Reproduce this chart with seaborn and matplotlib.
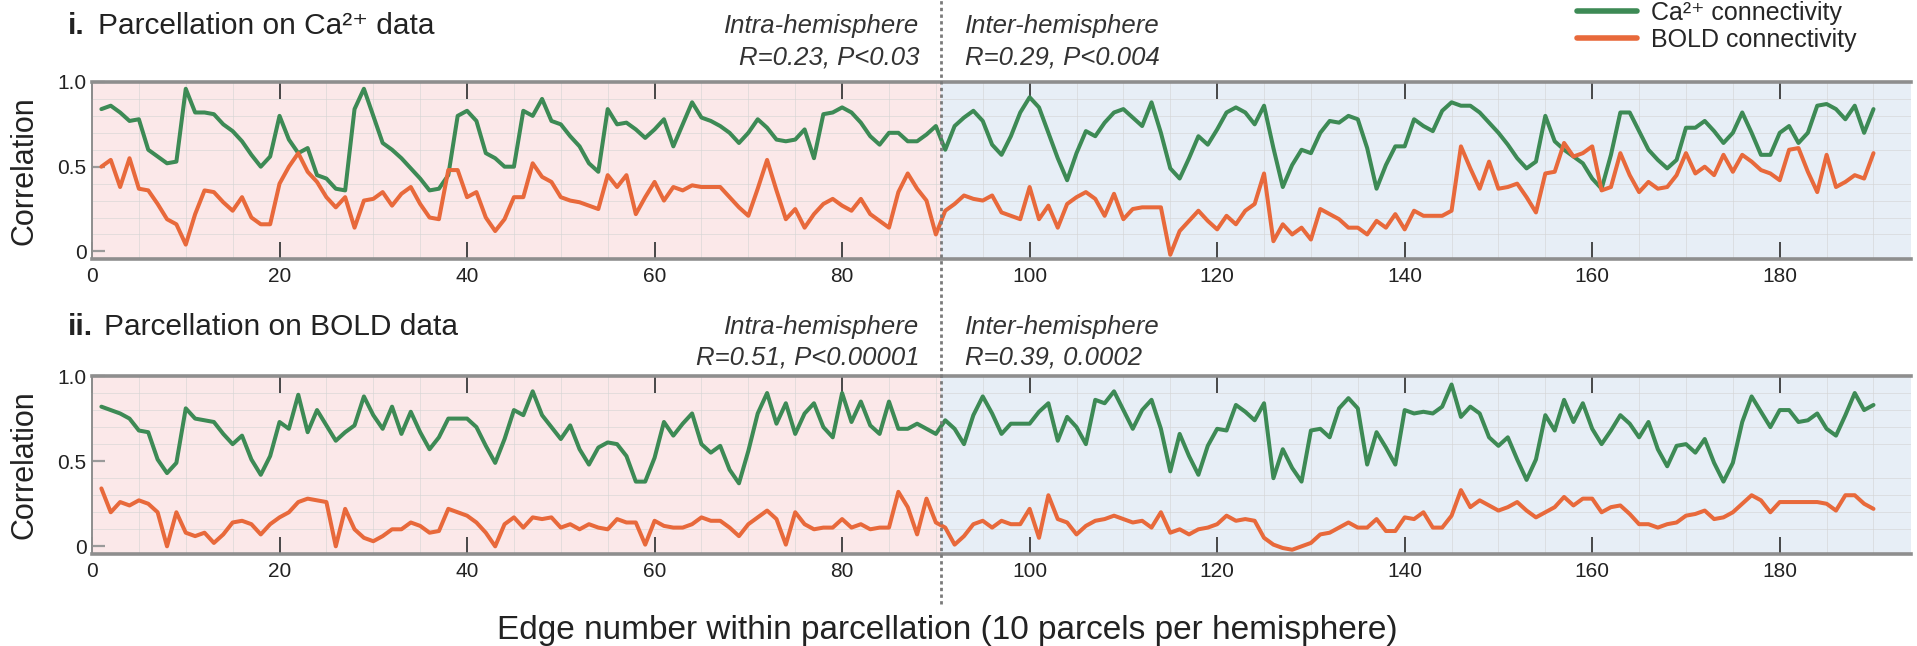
import numpy as np
import pandas as pd
import matplotlib
matplotlib.use("Agg")
import matplotlib.pyplot as plt
from matplotlib import transforms
from matplotlib.lines import Line2D
from matplotlib.ticker import MultipleLocator
import seaborn as sns

# ---- data -------------------------------------------------------------
edges = np.arange(1, 191)
n_intra = 90  # edges that stay within one hemisphere come first

# parcellation on Ca2+ data
ca_parc_ca = [
    0.84, 0.86, 0.82, 0.77, 0.78, 0.60, 0.56, 0.52, 0.53, 0.96,
    0.82, 0.82, 0.81, 0.75, 0.71, 0.65, 0.57, 0.50, 0.56, 0.80,
    0.66, 0.58, 0.61, 0.45, 0.43, 0.37, 0.36, 0.84, 0.96, 0.80,
    0.64, 0.60, 0.55, 0.49, 0.43, 0.36, 0.37, 0.45, 0.80, 0.83,
    0.77, 0.58, 0.55, 0.50, 0.50, 0.83, 0.80, 0.90, 0.77, 0.75,
    0.68, 0.62, 0.52, 0.47, 0.84, 0.75, 0.76, 0.72, 0.67, 0.72,
    0.78, 0.62, 0.75, 0.88, 0.79, 0.77, 0.74, 0.70, 0.64, 0.70,
    0.78, 0.73, 0.66, 0.65, 0.66, 0.72, 0.55, 0.81, 0.82, 0.85,
    0.82, 0.76, 0.68, 0.63, 0.70, 0.70, 0.65, 0.65, 0.69, 0.74,
    0.60, 0.74, 0.79, 0.83, 0.77, 0.63, 0.57, 0.68, 0.82, 0.91,
    0.85, 0.70, 0.55, 0.42, 0.58, 0.71, 0.68, 0.76, 0.82, 0.84,
    0.79, 0.74, 0.88, 0.70, 0.49, 0.43, 0.55, 0.68, 0.63, 0.72,
    0.82, 0.85, 0.82, 0.75, 0.86, 0.61, 0.38, 0.51, 0.60, 0.58,
    0.70, 0.77, 0.76, 0.80, 0.78, 0.61, 0.37, 0.51, 0.62, 0.62,
    0.78, 0.74, 0.71, 0.83, 0.88, 0.86, 0.86, 0.82, 0.76, 0.70,
    0.63, 0.55, 0.49, 0.53, 0.80, 0.65, 0.60, 0.56, 0.52, 0.43,
    0.37, 0.57, 0.82, 0.82, 0.71, 0.60, 0.54, 0.49, 0.54, 0.73,
    0.73, 0.77, 0.71, 0.64, 0.70, 0.82, 0.70, 0.57, 0.57, 0.70,
    0.74, 0.64, 0.70, 0.86, 0.87, 0.84, 0.78, 0.86, 0.70, 0.84,
]
ca_parc_bold = [
    0.50, 0.54, 0.38, 0.55, 0.37, 0.36, 0.28, 0.19, 0.16, 0.04,
    0.22, 0.36, 0.35, 0.29, 0.24, 0.32, 0.20, 0.16, 0.16, 0.40,
    0.50, 0.58, 0.47, 0.41, 0.32, 0.26, 0.32, 0.14, 0.30, 0.31,
    0.35, 0.27, 0.34, 0.38, 0.28, 0.20, 0.19, 0.48, 0.48, 0.32,
    0.35, 0.20, 0.12, 0.19, 0.32, 0.32, 0.52, 0.44, 0.41, 0.32,
    0.30, 0.29, 0.27, 0.25, 0.45, 0.38, 0.45, 0.22, 0.32, 0.41,
    0.30, 0.38, 0.36, 0.39, 0.38, 0.38, 0.38, 0.32, 0.26, 0.21,
    0.37, 0.54, 0.36, 0.19, 0.25, 0.14, 0.22, 0.28, 0.31, 0.27,
    0.24, 0.31, 0.22, 0.18, 0.14, 0.35, 0.46, 0.37, 0.30, 0.10,
    0.24, 0.28, 0.33, 0.31, 0.30, 0.33, 0.23, 0.21, 0.19, 0.38,
    0.19, 0.27, 0.14, 0.28, 0.32, 0.35, 0.31, 0.21, 0.34, 0.19,
    0.25, 0.26, 0.26, 0.26, -0.02, 0.12, 0.18, 0.24, 0.18, 0.13,
    0.21, 0.16, 0.24, 0.28, 0.46, 0.06, 0.16, 0.10, 0.14, 0.07,
    0.25, 0.22, 0.19, 0.14, 0.14, 0.10, 0.18, 0.14, 0.22, 0.13,
    0.24, 0.21, 0.21, 0.21, 0.24, 0.62, 0.49, 0.37, 0.53, 0.37,
    0.38, 0.40, 0.32, 0.23, 0.46, 0.47, 0.64, 0.56, 0.58, 0.62,
    0.36, 0.38, 0.58, 0.45, 0.35, 0.41, 0.37, 0.38, 0.45, 0.58,
    0.46, 0.50, 0.45, 0.57, 0.47, 0.57, 0.53, 0.48, 0.46, 0.42,
    0.60, 0.61, 0.47, 0.35, 0.57, 0.38, 0.41, 0.45, 0.43, 0.58,
]

# parcellation on BOLD data
bold_parc_ca = [
    0.82, 0.80, 0.78, 0.75, 0.68, 0.67, 0.51, 0.43, 0.49, 0.81,
    0.75, 0.74, 0.73, 0.66, 0.60, 0.65, 0.51, 0.42, 0.53, 0.73,
    0.69, 0.89, 0.67, 0.80, 0.71, 0.62, 0.67, 0.71, 0.88, 0.77,
    0.69, 0.82, 0.66, 0.79, 0.67, 0.57, 0.64, 0.75, 0.75, 0.75,
    0.70, 0.59, 0.49, 0.63, 0.80, 0.77, 0.91, 0.77, 0.70, 0.63,
    0.71, 0.57, 0.48, 0.58, 0.61, 0.60, 0.53, 0.38, 0.38, 0.52,
    0.73, 0.65, 0.72, 0.78, 0.60, 0.55, 0.59, 0.45, 0.37, 0.56,
    0.78, 0.90, 0.72, 0.84, 0.66, 0.78, 0.84, 0.70, 0.64, 0.90,
    0.73, 0.85, 0.71, 0.66, 0.85, 0.69, 0.69, 0.72, 0.69, 0.66,
    0.74, 0.69, 0.60, 0.77, 0.88, 0.78, 0.66, 0.72, 0.72, 0.72,
    0.79, 0.84, 0.62, 0.76, 0.70, 0.60, 0.86, 0.84, 0.91, 0.80,
    0.69, 0.80, 0.86, 0.69, 0.44, 0.66, 0.53, 0.42, 0.59, 0.69,
    0.68, 0.83, 0.79, 0.74, 0.84, 0.40, 0.57, 0.46, 0.38, 0.68,
    0.69, 0.64, 0.81, 0.87, 0.81, 0.48, 0.67, 0.58, 0.48, 0.80,
    0.78, 0.79, 0.78, 0.82, 0.95, 0.76, 0.82, 0.78, 0.64, 0.59,
    0.64, 0.51, 0.39, 0.51, 0.77, 0.68, 0.86, 0.73, 0.84, 0.69,
    0.60, 0.68, 0.77, 0.72, 0.64, 0.73, 0.57, 0.47, 0.59, 0.60,
    0.55, 0.63, 0.49, 0.38, 0.49, 0.73, 0.88, 0.79, 0.70, 0.80,
    0.80, 0.73, 0.74, 0.78, 0.69, 0.65, 0.77, 0.90, 0.80, 0.83,
]
bold_parc_bold = [
    0.34, 0.20, 0.26, 0.24, 0.27, 0.25, 0.20, 0.00, 0.20, 0.08,
    0.06, 0.08, 0.02, 0.07, 0.14, 0.15, 0.13, 0.07, 0.13, 0.17,
    0.20, 0.26, 0.28, 0.27, 0.26, 0.00, 0.22, 0.10, 0.05, 0.03,
    0.06, 0.10, 0.10, 0.14, 0.12, 0.08, 0.09, 0.22, 0.20, 0.18,
    0.14, 0.08, 0.00, 0.13, 0.17, 0.11, 0.17, 0.16, 0.17, 0.11,
    0.13, 0.10, 0.13, 0.11, 0.10, 0.16, 0.14, 0.14, 0.01, 0.15,
    0.12, 0.11, 0.11, 0.13, 0.17, 0.15, 0.15, 0.11, 0.06, 0.13,
    0.17, 0.21, 0.16, 0.01, 0.20, 0.13, 0.10, 0.11, 0.11, 0.16,
    0.11, 0.13, 0.10, 0.11, 0.11, 0.32, 0.23, 0.07, 0.28, 0.14,
    0.11, 0.01, 0.06, 0.13, 0.15, 0.11, 0.15, 0.13, 0.13, 0.22,
    0.05, 0.30, 0.16, 0.14, 0.07, 0.12, 0.15, 0.16, 0.18, 0.16,
    0.14, 0.15, 0.11, 0.20, 0.08, 0.10, 0.07, 0.10, 0.11, 0.13,
    0.18, 0.15, 0.16, 0.15, 0.05, 0.01, -0.01, -0.02, 0.00, 0.02,
    0.07, 0.08, 0.11, 0.14, 0.11, 0.11, 0.16, 0.09, 0.09, 0.17,
    0.16, 0.20, 0.11, 0.11, 0.18, 0.33, 0.23, 0.27, 0.24, 0.21,
    0.23, 0.26, 0.21, 0.17, 0.20, 0.23, 0.29, 0.24, 0.28, 0.28,
    0.20, 0.23, 0.24, 0.19, 0.13, 0.13, 0.11, 0.13, 0.14, 0.18,
    0.19, 0.21, 0.16, 0.17, 0.20, 0.25, 0.30, 0.27, 0.20, 0.26,
    0.26, 0.26, 0.26, 0.26, 0.25, 0.21, 0.30, 0.30, 0.25, 0.22,
]

signal_labels = ["Ca\u00b2\u207a connectivity", "BOLD connectivity"]
panel_numbers = ["i.", "ii."]
panel_titles = ["Parcellation on Ca\u00b2\u207a data", "Parcellation on BOLD data"]
intra_stats = ["R=0.23, P<0.03", "R=0.51, P<0.00001"]
inter_stats = ["R=0.29, P<0.004", "R=0.39, 0.0002"]
x_ticks = [0, 20, 40, 60, 80, 100, 120, 140, 160, 180]
y_ticks = [0, 0.5, 1.0]
y_tick_labels = ["0", "0.5", "1.0"]
x_label = "Edge number within parcellation (10 parcels per hemisphere)"
y_label = "Correlation"

# ---- long-form table --------------------------------------------------
panels = [(ca_parc_ca, ca_parc_bold), (bold_parc_ca, bold_parc_bold)]
frames = []
for p, (ca_vals, bold_vals) in enumerate(panels):
    for lab, vals in zip(signal_labels, (ca_vals, bold_vals)):
        frames.append(pd.DataFrame({"edge": edges, "corr": vals,
                                    "signal": lab, "panel": p}))
df = pd.concat(frames, ignore_index=True)

# ---- style -------------------------------------------------------------
sns.set_theme(style="white")
FONTS = ["Liberation Sans", "DejaVu Sans"]
plt.rcParams["font.family"] = FONTS

GREEN = "#3d8a55"
ORANGE = "#e8693b"
PINK = "#fbe8e9"
BLUE = "#e7eef6"
SPINE = "#8e8e8e"
TXT = "#222222"
palette = {signal_labels[0]: GREEN, signal_labels[1]: ORANGE}

W, H = 1917, 646
fig = plt.figure(figsize=(W / 100, H / 100), dpi=100)
ax_rects = [[92 / W, 1 - 259 / H, 1819 / W, 177 / H],
            [92 / W, 1 - 554 / H, 1819 / W, 178 / H]]
axes = [fig.add_axes(r) for r in ax_rects]

x_max = 194
split = n_intra + 0.5
for p, ax in enumerate(axes):
    ax.axvspan(0, split, color=PINK, zorder=0, lw=0)
    ax.axvspan(split, x_max, color=BLUE, zorder=0, lw=0)
    sns.lineplot(data=df[df["panel"] == p], x="edge", y="corr",
                 hue="signal", hue_order=signal_labels, palette=palette,
                 linewidth=2.9, errorbar=None, ax=ax, legend=(p == 0),
                 zorder=3)
    ax.set_xlim(0, x_max)
    ax.set_ylim(-0.045, 1.0)
    ax.set_xticks(x_ticks)
    ax.set_yticks(y_ticks)
    ax.set_yticklabels(y_tick_labels)
    ax.xaxis.set_minor_locator(MultipleLocator(5))
    ax.yaxis.set_minor_locator(MultipleLocator(0.1))
    ax.grid(which="minor", color="#d4d4d4", lw=0.6, alpha=0.7, zorder=1)
    ax.grid(which="major", visible=False)
    ax.tick_params(axis="x", which="major", direction="in", length=12,
                   width=1.3, color="#3a3a3a", top=True, bottom=True,
                   labelsize=15, pad=6, labelcolor=TXT)
    ax.tick_params(axis="y", which="major", direction="in", length=9,
                   width=1.6, color="#9a9a9a", left=True,
                   labelsize=15, pad=4, labelcolor=TXT)
    ax.tick_params(which="minor", length=0)
    for side in ("top", "bottom"):
        ax.spines[side].set_color(SPINE)
        ax.spines[side].set_linewidth(2.6)
    ax.spines["left"].set_color(SPINE)
    ax.spines["left"].set_linewidth(1.4)
    ax.spines["right"].set_visible(False)
    ax.set_xlabel("")
    ax.set_ylabel(y_label, fontsize=22, color=TXT)
    ax.yaxis.set_label_coords(-67 / 1819, 0.5)
    ax.yaxis.label.set_va("center")

# legend at the top right of the figure
handles, labels = axes[0].get_legend_handles_labels()
axes[0].get_legend().remove()
for h in handles:
    h.set_linewidth(4)
fig.legend(handles, labels, loc="upper left",
           bbox_to_anchor=(1577 / W, 1 - 1 / H), frameon=False,
           prop={"family": FONTS, "size": 18}, handlelength=2.4,
           handletextpad=0.55, labelspacing=0.12, borderpad=0,
           borderaxespad=0)

# panel titles and hemisphere statistics
title_y = [1 - 26 / H, 1 - 327 / H]
stats_y = [1 - 57 / H, 1 - 358 / H]
for p, ax in enumerate(axes):
    fig.text(68 / W, title_y[p], panel_numbers[p], fontsize=21.5,
             fontweight="bold", ha="left", va="center", color=TXT)
    after = transforms.offset_copy(fig.transFigure, fig=fig,
                                   x=(30 if p == 0 else 36), y=0,
                                   units="dots")
    fig.text(68 / W, title_y[p], panel_titles[p], fontsize=21.5,
             ha="left", va="center", color=TXT, transform=after)
    blend = transforms.blended_transform_factory(ax.transData, fig.transFigure)
    left = transforms.offset_copy(blend, fig=fig, x=-21, y=0, units="dots")
    right = transforms.offset_copy(blend, fig=fig, x=24, y=0, units="dots")
    kw = dict(fontsize=18.5, style="italic", va="center", color="#333333")
    fig.text(split, title_y[p], "Intra-hemisphere", transform=left,
             ha="right", **kw)
    fig.text(split, stats_y[p], intra_stats[p], transform=left,
             ha="right", **kw)
    fig.text(split, title_y[p], "Inter-hemisphere", transform=right,
             ha="left", **kw)
    fig.text(split, stats_y[p], inter_stats[p], transform=right,
             ha="left", **kw)

# dotted divider between intra- and inter-hemisphere edges
fx = fig.transFigure.inverted().transform(
    axes[0].transData.transform((split, 0)))[0]
fig.add_artist(Line2D([fx, fx], [1 - 604 / H, 1.0], transform=fig.transFigure,
                      color="#7a7a7a", lw=2.0, ls=(0, (1.2, 1.2)), zorder=10))

fig.text(947 / W, 1 - 630 / H, x_label, fontsize=24, ha="center",
         va="center", color=TXT)

fig.savefig("out.png", dpi=100)
